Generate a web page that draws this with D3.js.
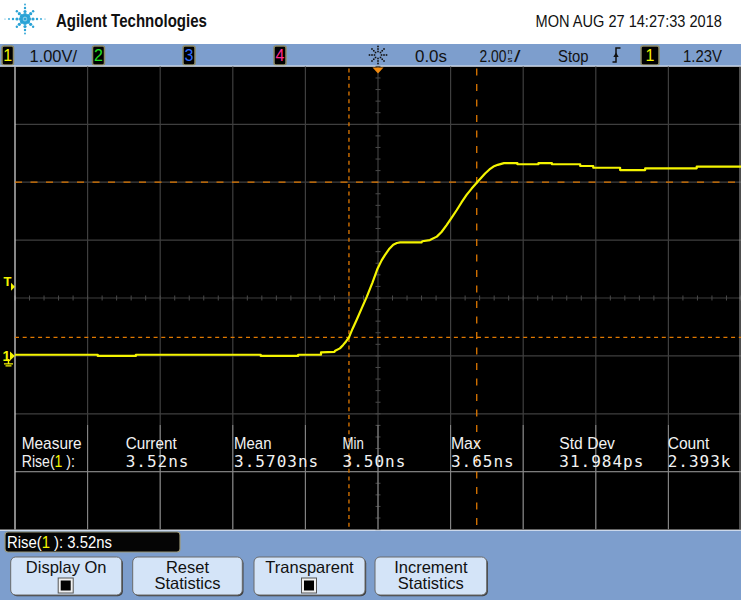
<!DOCTYPE html>
<html><head><meta charset="utf-8">
<script src="https://cdn.jsdelivr.net/npm/d3@7"></script>
<style>
body{margin:0;background:#fff}
svg{display:block}
text{font-family:"Liberation Sans Narrow","Arial Narrow","Liberation Sans",Arial,sans-serif}
.mono{font-family:"DejaVu Sans Mono","Liberation Mono",monospace}
</style>
</head><body>
<svg id="c" width="741" height="600"></svg>
<script>
// ---------- data ----------
const timeNs = [-10,-7.72,-7.72,-6.67,-6.67,-3.23,-3.23,-2.20,-2.20,-1.57,-1.57,-1.20,-1.18,-1.05,-0.96,-0.88,-0.80,-0.70,-0.59,-0.45,-0.31,-0.15,-0.01,0.10,0.19,0.30,0.42,0.52,0.61,1.20,1.22,1.43,1.62,1.75,1.89,2.03,2.17,2.30,2.44,2.58,2.72,2.85,2.95,3.07,3.18,3.30,3.47,3.84,3.84,4.42,4.42,4.79,4.79,5.57,5.57,5.93,5.93,6.67,6.67,7.36,7.36,8.78,8.78,10];
const volts  = [0.02,0.02,0.00,0.00,0.02,0.02,0.00,0.00,0.02,0.02,0.06,0.07,0.09,0.13,0.19,0.25,0.32,0.47,0.62,0.82,1.02,1.27,1.51,1.65,1.74,1.84,1.92,1.95,1.96,1.96,1.98,2.00,2.06,2.14,2.26,2.39,2.52,2.65,2.78,2.89,2.99,3.08,3.15,3.22,3.27,3.30,3.33,3.33,3.31,3.31,3.33,3.33,3.31,3.31,3.28,3.28,3.25,3.25,3.21,3.21,3.24,3.24,3.27,3.27];
const timeGrid = d3.range(-10, 10.001, 2);      // 2.00 ns/div
const voltGrid = d3.range(-3, 5.001, 1);        // 1.00 V/div
const timeMinor = d3.range(-10, 10.001, 0.4);
const voltMinor = d3.range(-3, 5.001, 0.2);
const cursorTimes = [-0.80, 2.72];
const cursorVolts = [0.32, 3.00];
const triggerLevel = 1.23;
const measureHeads = ["Measure","Current","Mean","Min","Max","Std Dev","Count"];
const measureVals  = ["Rise(1 ):","3.52ns","3.5703ns","3.50ns","3.65ns","31.984ps","2.393k"];
const buttonLabels = [["Display On"],["Reset","Statistics"],["Transparent"],["Increment","Statistics"]];
const buttonCheck  = [true,false,true,false];

// ---------- layout ----------
const svg = d3.select("#c");
const X0 = 15, X1 = 741, Y0 = 66.4, Y1 = 529.6;
const x = d3.scaleLinear().domain([-10,10]).range([X0,X1]);
const y = d3.scaleLinear().domain([-3,5]).range([Y1,Y0]);
const BLUE = "#7d9ecd";
const ORANGE = "#e07800";
const YELLOW = "#f4f400";

// condensed text: scale horizontally to a target width
function cText(parent, x0, y0, size, w, str, color, bold){
  const g = parent.append("g").attr("transform",`translate(${x0},${y0})`);
  const t = g.append("text").attr("font-size",size).attr("fill",color||"#111");
  if(bold) t.attr("font-weight","bold");
  if(Array.isArray(str)){ str.forEach(p=>{ const s=t.append("tspan").text(p[0]); if(p[1]) s.attr("fill",p[1]); }); }
  else t.text(str);
  const n = t.node().getComputedTextLength();
  if(w && n>0) g.attr("transform",`translate(${x0},${y0}) scale(${w/n},1)`);
  return t;
}

// backgrounds
svg.append("rect").attr("x",0).attr("y",0).attr("width",741).attr("height",44).attr("fill","#fff");
svg.append("rect").attr("x",0).attr("y",44).attr("width",741).attr("height",22.5).attr("fill",BLUE);
svg.append("rect").attr("x",0).attr("y",66).attr("width",741).attr("height",Y1-66).attr("fill","#000");
svg.append("rect").attr("x",0).attr("y",Y1+1).attr("width",741).attr("height",600-Y1-1).attr("fill",BLUE);

// ---------- header ----------
const logo = svg.append("g").attr("transform","translate(25,19)");
[0,45,90,135,180,225,270,315].forEach(a=>{
  const horiz = (a%180===0);
  const dists = horiz ? [4,8,12,16,20] : (a%90===0 ? [4,7.5,11,14.5] : [4.2,8,11.5]);
  const rs = [2.1,1.6,1.2,0.9,0.6];
  dists.forEach((d,i)=>{
    const r=a*Math.PI/180;
    logo.append("circle").attr("cx",Math.cos(r)*d).attr("cy",Math.sin(r)*d*(a%180===90?1:0.95)).attr("r",rs[i]).attr("fill","#2aa3d6");
  });
});
logo.append("circle").attr("r",1.8).attr("fill","#2aa3d6");
cText(svg,56,27,18,151,"Agilent Technologies","#111",true);
cText(svg,535.5,27,16.5,186.5,"MON AUG 27 14:27:33 2018","#111");

// ---------- toolbar ----------
function chanBox(x0,w,label,color){
  svg.append("rect").attr("x",x0).attr("y",46).attr("width",w).attr("height",19).attr("rx",2)
    .attr("fill","#000").attr("stroke","#8d8a66").attr("stroke-width",1.5);
  svg.append("text").attr("x",x0+w/2).attr("y",61).attr("text-anchor","middle").attr("font-size",16).attr("fill",color).text(label);
}
chanBox(2,11.5,"1",YELLOW);
chanBox(92.5,12,"2","#22e022");
chanBox(183,12,"3","#2f6cff");
chanBox(274,12,"4","#ff2a90");
chanBox(641,18,"1",YELLOW);
const tb = (x0,w,t)=>cText(svg,x0,61.7,17,w,t,"#111");
tb(29.5,47.5,"1.00V/");
tb(415,32,"0.0s");
tb(479.5,27,"2.00");
cText(svg,507.5,53.5,8,5,"n","#111");
cText(svg,507.5,61.5,8,5,"s","#111");
tb(514,6.5,"/");
tb(558,30.5,"Stop");
tb(683,39,"1.23V");
// acquisition icon
const acq = svg.append("g").attr("transform","translate(378,55)");
d3.range(0,360,45).forEach(a=>{
  const r=a*Math.PI/180;
  [3.5,6,8.5].forEach(d=>acq.append("rect").attr("x",Math.cos(r)*d-0.8).attr("y",Math.sin(r)*d-0.8)
    .attr("width",1.6).attr("height",1.6).attr("fill","#111"));
});
// trigger edge symbol
svg.append("path").attr("d","M612.5,62 H616 V48 H620.5").attr("fill","none").attr("stroke","#111").attr("stroke-width",1.5);
svg.append("path").attr("d","M613.3,57 L616,52.5 L618.7,57 Z").attr("fill","#111");
svg.append("line").attr("x1",0).attr("x2",741).attr("y1",66.2).attr("y2",66.2).attr("stroke","#dfe7f3").attr("stroke-width",1.2);

// ---------- grid ----------
const grid = svg.append("g");
grid.selectAll(".vg").data(timeGrid.slice(1,-1)).join("line")
  .attr("x1",d=>x(d)).attr("x2",d=>x(d)).attr("y1",Y0).attr("y2",Y1).attr("stroke","#3f3f3f").attr("stroke-width",1.2);
grid.selectAll(".hg").data(voltGrid.slice(1,-1)).join("line")
  .attr("x1",X0).attr("x2",X1).attr("y1",d=>y(d)).attr("y2",d=>y(d)).attr("stroke","#3f3f3f").attr("stroke-width",1.2);
grid.selectAll(".tm").data(timeMinor).join("line")
  .attr("x1",d=>x(d)).attr("x2",d=>x(d)).attr("y1",y(1)-2.5).attr("y2",y(1)+2.5).attr("stroke","#4a4a4a");
grid.selectAll(".vm").data(voltMinor).join("line")
  .attr("x1",x(0)-2.5).attr("x2",x(0)+2.5).attr("y1",d=>y(d)).attr("y2",d=>y(d)).attr("stroke","#4a4a4a");

// measurement overlay region (lighter grid)
const MY0 = 425;
const mg = svg.append("g");
mg.selectAll("line.v").data(timeGrid.slice(1,-1)).join("line")
  .attr("x1",d=>x(d)).attr("x2",d=>x(d)).attr("y1",MY0).attr("y2",Y1).attr("stroke","#8a8a8a").attr("stroke-width",1);
mg.append("line").attr("x1",X0).attr("x2",X1).attr("y1",y(-2)).attr("y2",y(-2)).attr("stroke","#8a8a8a");

// borders
svg.append("line").attr("x1",X0).attr("x2",X0).attr("y1",Y0).attr("y2",Y1).attr("stroke","#cfcfcf").attr("stroke-width",1.3);
svg.append("line").attr("x1",740).attr("x2",740).attr("y1",Y0).attr("y2",Y1).attr("stroke","#9a9a9a").attr("stroke-width",1);

// ---------- cursors ----------
const cur = svg.append("g");
cur.append("line").attr("x1",X0).attr("x2",X1).attr("y1",y(cursorVolts[1])).attr("y2",y(cursorVolts[1]))
  .attr("stroke",ORANGE).attr("stroke-width",1.3).attr("stroke-dasharray","7,8.5");
cur.append("line").attr("x1",X0).attr("x2",X1).attr("y1",y(cursorVolts[0])).attr("y2",y(cursorVolts[0]))
  .attr("stroke",ORANGE).attr("stroke-width",1.3).attr("stroke-dasharray","4,3.7");
cur.append("line").attr("x1",x(cursorTimes[0])).attr("x2",x(cursorTimes[0])).attr("y1",Y0+2).attr("y2",Y1)
  .attr("stroke",ORANGE).attr("stroke-width",1.3).attr("stroke-dasharray","4,3.7");
cur.append("line").attr("x1",x(cursorTimes[1])).attr("x2",x(cursorTimes[1])).attr("y1",Y0+2).attr("y2",Y1)
  .attr("stroke",ORANGE).attr("stroke-width",1.3).attr("stroke-dasharray","7,8.5");

// ---------- trace ----------
const pts = timeNs.map((t,i)=>[t,volts[i]]);
svg.append("path").datum(pts)
  .attr("d",d3.line().x(d=>x(d[0])).y(d=>y(d[1])).curve(d3.curveLinear))
  .attr("fill","none").attr("stroke",YELLOW).attr("stroke-width",2.2).attr("stroke-linejoin","round");

// ---------- markers ----------
svg.append("path").attr("d",`M${x(0)-5.5},67.5 L${x(0)+5.5},67.5 L${x(0)},73.5 Z`).attr("fill","#f08a10");
const ty = y(triggerLevel);
svg.append("text").attr("x",3.5).attr("y",ty+1).attr("font-size",13).attr("font-weight","bold").attr("fill",YELLOW).text("T");
svg.append("path").attr("d",`M11,${ty-2} L15,${ty+2} L11,${ty+6} Z`).attr("fill",YELLOW);
const gy = y(0);
svg.append("text").attr("x",2.5).attr("y",gy+5.5).attr("font-size",14).attr("font-weight","bold").attr("fill",YELLOW).text("1");
svg.append("path").attr("d",`M10,${gy-4.5} L15,${gy} L10,${gy+4.5} Z`).attr("fill",YELLOW);
svg.append("path").attr("d",`M8.5,${gy+3} V${gy+8} M4,${gy+8} H13 M5.5,${gy+10} H11.5`).attr("stroke",YELLOW).attr("stroke-width",1.4).attr("fill","none");

// ---------- measurements ----------
const colX = i => i===0 ? 21.7 : 125.7 + (i-1)*108.4;
const headW = [60,51,37.4,21.3,30,55.7,41.6];
measureHeads.forEach((h,i)=>cText(svg,colX(i),449,17,headW[i],h,"#f2f2f2"));
measureVals.forEach((v,i)=>{
  if(i===0){
    cText(svg,colX(0),466.7,17,53.3,[["Rise("],["1",YELLOW],[" ):"]],"#f2f2f2");
  } else {
    svg.append("text").attr("class","mono").attr("x",colX(i)).attr("y",466.7).attr("font-size",16)
      .attr("letter-spacing",1).attr("fill","#f2f2f2").text(v);
  }
});

// ---------- bottom panel ----------
svg.append("rect").attr("x",5).attr("y",532).attr("width",175).attr("height",20).attr("rx",3)
  .attr("fill","#050505").attr("stroke","#9c9878").attr("stroke-width",1.2);
cText(svg,7,547.5,16,105,[["Rise("],["1",YELLOW],[" ): 3.52ns"]],"#fff");

const btnX = [10.7,132.7,254,375];
const btnW = [111,109.6,111,111.7];
buttonLabels.forEach((lab,i)=>{
  const g = svg.append("g");
  g.append("rect").attr("x",btnX[i]+1.2).attr("y",558.2).attr("width",btnW[i]).attr("height",38).attr("rx",5).attr("fill","#404040");
  g.append("rect").attr("x",btnX[i]).attr("y",557).attr("width",btnW[i]).attr("height",38).attr("rx",5)
    .attr("fill","#d4e4f8").attr("stroke","#6b6b6b").attr("stroke-width",1);
  const cx = btnX[i]+btnW[i]/2;
  lab.forEach((s,k)=>g.append("text").attr("x",cx).attr("y",572.7+k*16.5).attr("text-anchor","middle")
    .attr("font-size",16.5).attr("fill","#111").text(s));
  if(buttonCheck[i]){
    g.append("rect").attr("x",cx-8).attr("y",578).attr("width",15).attr("height",15).attr("fill","#f0f0f0").attr("stroke","#555");
    g.append("rect").attr("x",cx-5.5).attr("y",580.5).attr("width",10).attr("height",10).attr("fill","#000");
  }
});
</script>
</body></html>
